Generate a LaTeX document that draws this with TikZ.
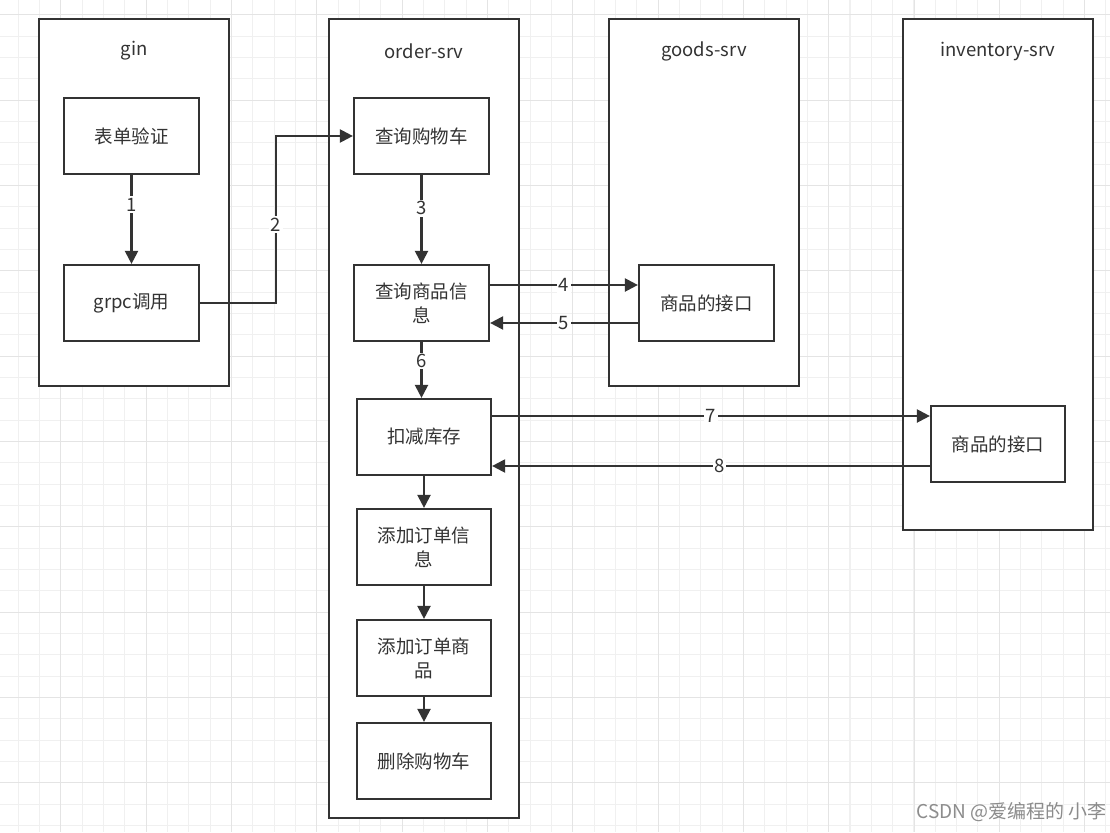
\documentclass[tikz,border=0pt]{standalone}
\usepackage{fontspec}
\setmainfont{Noto Sans CJK SC}
\usetikzlibrary{arrows.meta,calc}
\definecolor{ink}{HTML}{333333}
\definecolor{gridminor}{HTML}{F0F0F0}
\definecolor{gridmajor}{HTML}{E4E4E4}
\tikzset{
  container/.style={draw=ink, line width=2.2pt, fill=white, minimum width=190pt, inner sep=0pt},
  ctitle/.style={text=ink, font=\fontsize{18.5}{22}\selectfont},
  stepbox/.style={draw=ink, line width=2.2pt, fill=white, minimum width=135pt, minimum height=76pt, inner sep=2pt, align=center, text=ink, font=\fontsize{18.5}{24}\selectfont},
  conn/.style={draw=ink, line width=2.2pt, -{Triangle[length=13pt,width=13pt]}},
  lbl/.style={fill=white, text=ink, inner sep=1.5pt, font=\fontsize{18.5}{22}\selectfont},
}
\begin{document}
\begin{tikzpicture}[x=1pt,y=-1pt]
\useasboundingbox (0,0) rectangle (1110,832);
\fill[white] (0,0) rectangle (1110,832);
% grid
\foreach \i in {0,...,51} {
  \pgfmathsetmacro{\gx}{18+21.333*\i}
  \draw[gridminor, line width=1pt] (\gx,0) -- (\gx,832);
}
\foreach \i in {0,...,39} {
  \pgfmathsetmacro{\gy}{14.7+21.333*\i}
  \draw[gridminor, line width=1pt] (0,\gy) -- (1110,\gy);
}
\foreach \i in {0,...,12} {
  \pgfmathsetmacro{\gx}{60.7+85.333*\i}
  \draw[gridmajor, line width=1pt] (\gx,0) -- (\gx,832);
}
\foreach \i in {0,...,9} {
  \pgfmathsetmacro{\gy}{14.7+85.333*\i}
  \draw[gridmajor, line width=1pt] (0,\gy) -- (1110,\gy);
}
% containers
\node[container, minimum height=367pt] (gin) at (134,202.5) {};
\node[container, minimum height=799pt] (order) at (424,418.5) {};
\node[container, minimum height=367pt] (goods) at (704,202.5) {};
\node[container, minimum height=511pt] (inv) at (998,274.5) {};
\node[ctitle] (tgin) at (134,51) {gin};
\node[ctitle] (torder) at (424,51) {order-srv};
\node[ctitle] (tgoods) at (704,51) {goods-srv};
\node[ctitle] (tinv) at (998,51) {inventory-srv};
% boxes
\node[stepbox] (b1) at (131.5,136) {表单验证};
\node[stepbox] (b2) at (131.5,303) {grpc调用};
\node[stepbox] (c1) at (421.5,136) {查询购物车};
\node[stepbox] (c2) at (421.5,303) {查询商品信\\息};
\node[stepbox, minimum width=134pt] (c3) at (424,437) {扣减库存};
\node[stepbox, minimum width=134pt] (c4) at (424,547) {添加订单信\\息};
\node[stepbox, minimum width=134pt] (c5) at (424,658) {添加订单商\\品};
\node[stepbox, minimum width=134pt] (c6) at (424,761) {删除购物车};
\node[stepbox] (g1) at (706.5,303) {商品的接口};
\node[stepbox, minimum width=134pt] (i1) at (998,444) {商品的接口};
% connectors
\draw[conn] (b1) -- node[lbl, pos=0.33] {1} (b2);
\coordinate (k2) at (276,303);
\draw[conn] (b2.east) -- (k2) -- node[lbl, pos=0.47] {2} (k2 |- c1.west) -- (c1.west);
\draw[conn] (c1) -- node[lbl, pos=0.375] {3} (c2);
\draw[conn] ([yshift=18pt]c2.east) -- node[lbl] {4} ([yshift=18pt]g1.west);
\draw[conn] ([yshift=-20pt]g1.west) -- node[lbl] {5} ([yshift=-20pt]c2.east);
\draw[conn] (c2.south) -- node[lbl, pos=0.34] {6} (c2.south |- c3.north);
\draw[conn] ([yshift=21pt]c3.east) -- node[lbl] {7} ([yshift=28pt]i1.west);
\draw[conn] ([yshift=-22pt]i1.west) -- node[lbl, pos=0.48] {8} ([yshift=-29pt]c3.east);
\draw[conn] (c3) -- (c4);
\draw[conn] (c4) -- (c5);
\draw[conn] (c5) -- (c6);
% watermark
\node[anchor=east, text=black!45, font=\fontsize{19}{22}\selectfont, inner sep=0pt] (wm) at (1107,812) {CSDN @爱编程的 小李};
\end{tikzpicture}
\end{document}
